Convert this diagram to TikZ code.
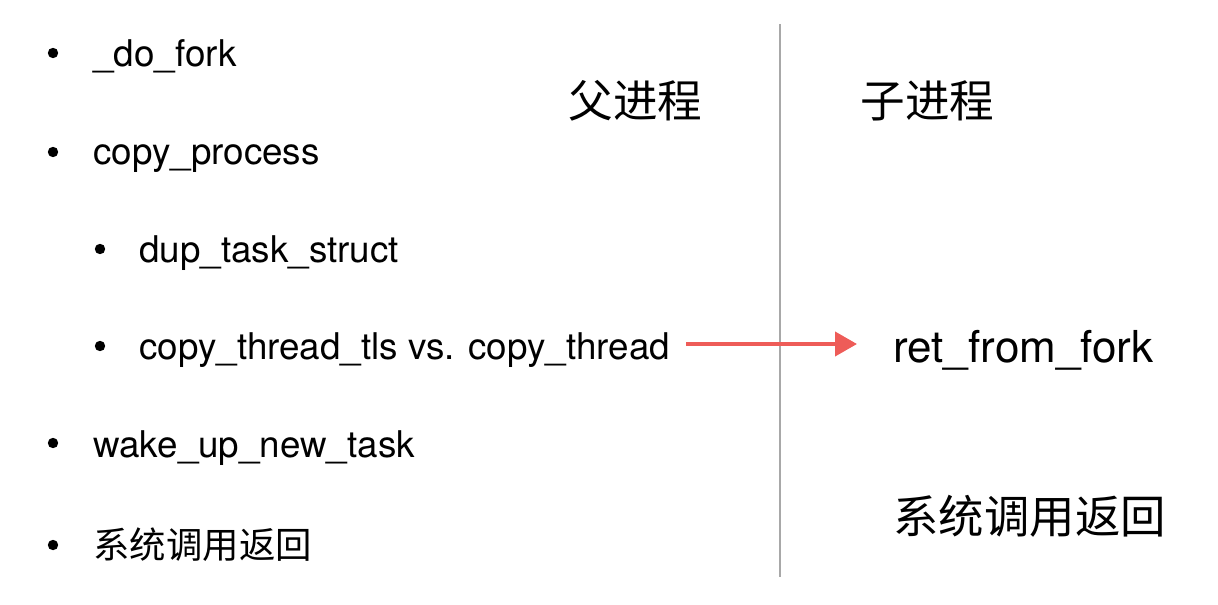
\documentclass[tikz,border=0pt]{standalone}
\usepackage{fontspec}
\setmainfont{TeX Gyre Heros}
\newfontfamily\cjkfont{Noto Sans CJK SC}
\usetikzlibrary{arrows.meta}

\definecolor{arrowred}{RGB}{238,92,88}
\definecolor{dividergray}{RGB}{168,168,168}

\begin{document}
\begin{tikzpicture}[x=0.5pt,y=-0.5pt,
    item/.style={anchor=base west,inner sep=0pt,
        font=\fontsize{18.4}{20}\selectfont},
    heading/.style={anchor=base west,inner sep=0pt,
        font=\cjkfont\fontsize{22.3}{24}\selectfont},
    bullet/.style={fill=black}]
    \def\divX{780}
    \def\levelA{93}
    \def\levelB{139}

    \useasboundingbox (0,0) rectangle (1218,604);

    % Left column: call chain in the parent.
    \node[item] (dofork) at (\levelA,67) {\_do\_fork};
    \node[item] (copyproc) at (\levelA,165) {copy\_process};
    \node[item] (duptask) at (\levelB,262) {dup\_task\_struct};
    \node[item] (copythread) at (\levelB,359)
        {copy\_thread\_tls vs. copy\_thread};
    \node[item] (wakeup) at (\levelA,457) {wake\_up\_new\_task};
    \node[item,font=\cjkfont\fontsize{18.2}{20}\selectfont] (sysretA)
        at (\levelA,558) {系统调用返回};

    \foreach \y in {53,152,443,545}
        \fill[bullet] (53,\y) circle (2.6pt);
    \foreach \y in {249,346}
        \fill[bullet] (100,\y) circle (2.6pt);

    % Column headings.
    \node[heading] (parent) at (568,118) {父进程};
    \node[heading] (child) at (860,118) {子进程};

    % Divider between the two processes.
    \draw[dividergray,line width=1pt] (\divX,24) -- (\divX,577);

    % Right column: where the child starts.
    \node[item,font=\fontsize{22}{24}\selectfont] (retfork)
        at (893,362) {ret\_from\_fork};
    \node[heading,font=\cjkfont\fontsize{22.7}{24}\selectfont] (sysretB)
        at (893,533) {系统调用返回};

    \draw[arrowred,line width=2pt,
        -{Triangle[length=11pt,width=12pt]},
        shorten <=8pt,shorten >=18pt]
        (copythread.east |- 0,344) -- (retfork.west |- 0,344);
\end{tikzpicture}
\end{document}
